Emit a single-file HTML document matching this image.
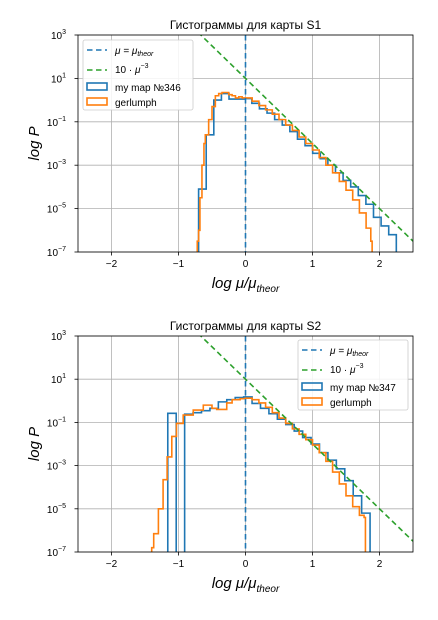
<!DOCTYPE html>
<html><head><meta charset="utf-8"><style>
body{margin:0;background:#fff;width:438px;height:615px;overflow:hidden}
svg{font-family:"Liberation Sans","DejaVu Sans",sans-serif}
</style></head><body>
<svg id="s" width="438" height="615" xmlns="http://www.w3.org/2000/svg"></svg>
<script>
// ---- data ----
const xTicks=[-2,-1,0,1,2];
const yTickExps=[3,1,-1,-3,-5,-7];
// top chart S1
const s1BlueStart=-0.70, s1BlueWidth=0.1135;
const s1Blue=[-4.1,-1.6,0.0,0.3,0.05,0.05,0.07,-0.15,-0.4,-0.6,-0.9,-1.15,-1.45,-1.8,-2.1,-2.45,-2.7,-3.0,-3.35,-3.7,-4.0,-4.4,-4.8,-5.4,-5.8,-6.2];
const s1OrangeX=[-0.72,-0.70,-0.68,-0.65,-0.62,-0.60,-0.55,-0.50,-0.45,-0.40,-0.35,-0.30,-0.25,-0.20,-0.15,-0.10,-0.05,0.0,0.1,0.2,0.3,0.4,0.5,0.6,0.7,0.8,0.9,1.0,1.1,1.2,1.3,1.4,1.5,1.6,1.7,1.8,1.87];
const s1OrangeY=[-6.5,-6.0,-4.5,-3.0,-2.0,-1.6,-0.9,-0.3,0.2,0.3,0.35,0.35,0.25,0.2,0.1,0.15,0.1,0.1,-0.05,-0.25,-0.45,-0.65,-0.9,-1.15,-1.4,-1.7,-2.0,-2.3,-2.65,-3.0,-3.35,-3.75,-4.15,-4.6,-5.2,-5.9,-6.5];
// bottom chart S2
const s2BlueStart=-1.16, s2BlueWidth=0.1258;
const s2Blue=[-0.58,null,-0.62,-0.55,-0.46,-0.35,-0.05,0.05,0.15,0.18,-0.12,-0.35,-0.6,-0.85,-1.1,-1.4,-1.7,-2.0,-2.4,-2.75,-3.15,-3.7,-4.4,-5.2];
const s2OrangeX=[-1.40,-1.37,-1.30,-1.23,-1.17,-1.10,-1.03,-0.93,-0.78,-0.63,-0.50,-0.43,-0.28,-0.2,-0.08,0.0,0.1,0.2,0.3,0.4,0.5,0.6,0.7,0.8,0.9,1.0,1.1,1.2,1.3,1.4,1.5,1.6,1.7,1.77];
const s2OrangeY=[-6.8,-6.15,-5.0,-3.65,-2.6,-1.65,-1.05,-0.66,-0.43,-0.2,-0.35,-0.4,-0.1,0.05,0.1,0.12,0.05,-0.1,-0.3,-0.55,-0.8,-1.05,-1.3,-1.55,-1.8,-2.05,-2.4,-2.8,-3.3,-3.85,-4.4,-4.9,-5.3,-5.4];

const NS="http://www.w3.org/2000/svg";
const svg=document.getElementById('s');
function mk(tag,attrs,parent,text){const e=document.createElementNS(NS,tag);for(const k in attrs)e.setAttribute(k,attrs[k]);if(text!==undefined)e.textContent=text;(parent||svg).appendChild(e);return e;}

function chart(top,bottom,title,bStart,bW,bVals,oX,oY,legendPos,mapName,prefix){
  const L=78,R=413;
  const X=v=>L+(v+2.5)/5*(R-L);
  const Y=v=>top+(3-v)/10*(bottom-top);
  const g=mk('g',{});
  
  
  // grid
  xTicks.forEach(t=>{const l=mk('line',{x1:X(t),x2:X(t),y1:top,y2:bottom,stroke:'#b0b0b0','stroke-width':0.8},g);
    });
  yTickExps.forEach(t=>{const l=mk('line',{x1:L,x2:R,y1:Y(t),y2:Y(t),stroke:'#b0b0b0','stroke-width':0.8},g);
    });
  const clip='c'+prefix;
  const cp=mk('clipPath',{id:clip},g);mk('rect',{x:L,y:top,width:R-L,height:bottom-top},cp);
  const pg=mk('g',{'clip-path':'url(#'+clip+')'},g);
  // blue histogram
  let d='';let prevBottom=true;
  for(let i=0;i<bVals.length;i++){
    const x0=X(bStart+i*bW),x1=X(bStart+(i+1)*bW);
    const v=bVals[i]===null?-7.5:bVals[i];
    const y=Y(v);
    if(i===0)d+='M'+x0+','+Y(-7.5);
    d+='L'+x0+','+y+'L'+x1+','+y;
  }
  d+='L'+X(bStart+bVals.length*bW)+','+Y(-7.5);
  const bp=mk('path',{d:d,fill:'none',stroke:'#1f77b4','stroke-width':1.6},pg);
  
  // orange step line
  let od='M'+X(oX[0])+','+Y(-7.5);
  for(let i=0;i<oX.length;i++){
    const y=Y(oY[i]);
    od+='L'+X(oX[i])+','+y;
    const nx=i<oX.length-1?oX[i+1]:oX[i]+0.02;
    od+='L'+X(nx)+','+y;
  }
  od+='L'+X(oX[oX.length-1]+0.02)+','+Y(-7.5);
  const op=mk('path',{d:od,fill:'none',stroke:'#ff7f0e','stroke-width':1.6},pg);
  
  // green line log P = 1 - 3x
  const gl=mk('line',{x1:X(-1),y1:Y(4),x2:X(2.5),y2:Y(1-7.5),stroke:'#2ca02c','stroke-width':1.6,'stroke-dasharray':'5.5,3.5'},pg);
  
  const vl=mk('line',{x1:X(0),x2:X(0),y1:top,y2:bottom,stroke:'#1f77b4','stroke-width':1.6,'stroke-dasharray':'5.5,3.5'},pg);
  
  // frame
  const fr=mk('rect',{x:L,y:top,width:R-L,height:bottom-top,fill:'none',stroke:'#000','stroke-width':0.8},g);
  
  // ticks
  xTicks.forEach(t=>{mk('line',{x1:X(t),x2:X(t),y1:bottom,y2:bottom+3.5,stroke:'#000','stroke-width':0.8},g);
    const tx=mk('text',{x:X(t),y:bottom+15,'text-anchor':'middle','font-size':10},g,t<0?'\u2212'+(-t):String(t));
    });
  yTickExps.forEach(t=>{mk('line',{x1:L-3.5,x2:L,y1:Y(t),y2:Y(t),stroke:'#000','stroke-width':0.8},g);
    const tx=mk('text',{x:L-12,y:Y(t)+4,'text-anchor':'end','font-size':10},g,'10');
    mk('tspan',{dy:-5,'font-size':7},tx,t<0?'\u2212'+(-t):String(t));
    });
  // title and axis labels
  const tt=mk('text',{x:(L+R)/2,y:top-6,'text-anchor':'middle','font-size':12},g,title);
  
  const yl=mk('text',{x:0,y:0,'text-anchor':'middle','font-size':15,'font-style':'italic',transform:'translate(39,'+((top+bottom)/2)+') rotate(-90)'},g,'log P');
  
  const xl=mk('text',{x:(L+R)/2,y:bottom+36,'text-anchor':'middle','font-size':15,'font-style':'italic'},g,'log μ/μ');
  mk('tspan',{dy:4,'font-size':10},xl,'theor');
  
  // legend
  const [lx,ly]=legendPos;
  const lg=mk('g',{},g);
  
  mk('rect',{x:lx,y:ly,width:110,height:70,rx:2,fill:'#fff','fill-opacity':0.85,stroke:'#ccc','stroke-width':0.8},lg);
  const e1=mk('line',{x1:lx+4,x2:lx+24,y1:ly+10,y2:ly+10,stroke:'#1f77b4','stroke-width':1.6,'stroke-dasharray':'5.5,3.5'},lg);
  const t1=mk('text',{x:lx+32,y:ly+14,'font-size':10,'font-style':'italic'},lg,'μ = μ');mk('tspan',{dy:2,'font-size':7},t1,'theor');
  
  mk('line',{x1:lx+4,x2:lx+24,y1:ly+30,y2:ly+30,stroke:'#2ca02c','stroke-width':1.6,'stroke-dasharray':'5.5,3.5'},lg);
  const t2=mk('text',{x:lx+32,y:ly+33,'font-size':10},lg,'10 · ');mk('tspan',{'font-style':'italic'},t2,'μ');mk('tspan',{dy:-5,'font-size':7},t2,'−3');
  
  mk('rect',{x:lx+4,y:ly+43,width:20,height:7,fill:'none',stroke:'#1f77b4','stroke-width':1.6},lg);
  const t3=mk('text',{x:lx+32,y:ly+51,'font-size':10},lg,mapName);
  
  mk('rect',{x:lx+4,y:ly+58,width:20,height:7,fill:'none',stroke:'#ff7f0e','stroke-width':1.6},lg);
  const t4=mk('text',{x:lx+32,y:ly+66,'font-size':10},lg,'gerlumph');
  
}
chart(35,252,'Гистограммы для карты S1',s1BlueStart,s1BlueWidth,s1Blue,s1OrangeX,s1OrangeY,[83,40],'my map №346','top');
chart(336,552,'Гистограммы для карты S2',s2BlueStart,s2BlueWidth,s2Blue,s2OrangeX,s2OrangeY,[298,340],'my map №347','bottom');
</script>
</body></html>
